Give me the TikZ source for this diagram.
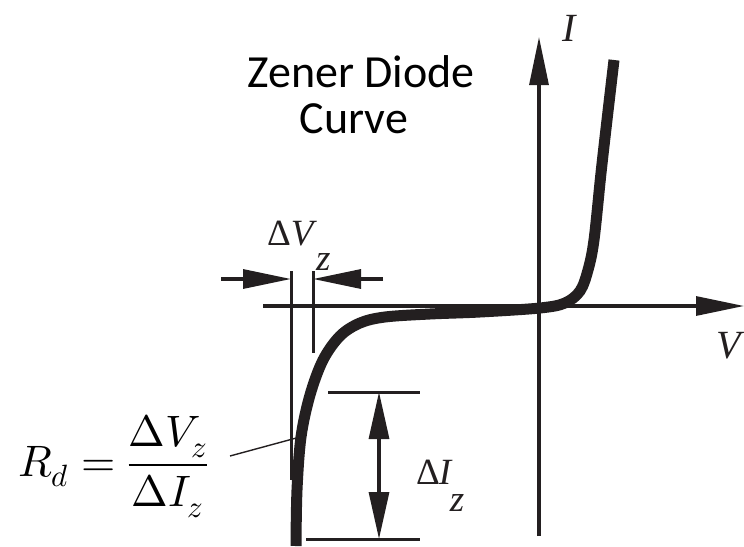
\documentclass[tikz,border=0pt]{standalone}
\usepackage{fontspec}
\usepackage{unicode-math}
\setmathfont{Latin Modern Math}
\newfontfamily\titlefont{Carlito}
\newfontfamily\tms{Liberation Serif}
\usetikzlibrary{arrows.meta}
\definecolor{ink}{HTML}{231F20}
\begin{document}
\begin{tikzpicture}[x=1pt,y=-1pt,
  axis/.style={draw=ink,line width=3.1pt,-{Triangle[length=48pt,width=19pt]}},
  curveline/.style={draw=ink,line width=11pt},
  extline/.style={draw=ink,line width=3pt},
  dimarrow/.style={draw=ink,line width=3.2pt,-{Triangle[length=48pt,width=19pt]}},
  twoarrow/.style={draw=ink,line width=3.2pt,{Triangle[length=47pt,width=20pt]}-{Triangle[length=47pt,width=20pt]}},
  leader/.style={draw=ink,line width=1.4pt},
  lbl/.style={inner sep=0pt,font=\tms\fontsize{37}{37}\selectfont,text=ink},
  axlbl/.style={inner sep=0pt,font=\tms\fontsize{40}{40}\selectfont,text=ink},
  titletext/.style={inner sep=0pt,font=\titlefont\fontsize{46}{46}\selectfont,text=black}]
\useasboundingbox (0,0) rectangle (744,546);
% axes
\coordinate (Vs) at (263,306);
\coordinate (Ve) at (744,306);
\coordinate (Is) at (539,536);
\coordinate (Ie) at (539,37);
\draw[axis] (Vs) -- (Ve);
\draw[axis] (Is) -- (Ie);
\node[axlbl,anchor=base west] (Ilab) at (562,41) {\textit{I}};
\node[axlbl,anchor=base west] (Vlab) at (716,358) {\textit{V}};
% title
\node[titletext,anchor=base] (t1) at (361,87) {Zener Diode};
\node[titletext,anchor=base] (t2) at (354,133) {Curve};
% curve
\draw[curveline] plot[smooth,tension=0.55] coordinates {
 (296,546) (297,490) (301,437) (310,395) (323,360) (340,336) (360,323)
 (385,317) (430,314) (480,312) (540,308) (565,303) (580,291) (588,270)
 (594,240) (601,173) (607,120) (614,60)};
% Delta V_z dimension
\coordinate (eL1) at (291,271); \coordinate (eL2) at (291,480);
\coordinate (eR1) at (313,271); \coordinate (eR2) at (313,353);
\draw[extline] (eL1) -- (eL2);
\draw[extline] (eR1) -- (eR2);
\coordinate (dL) at (221,279); \coordinate (dLt) at (291,279);
\coordinate (dR) at (383,279); \coordinate (dRt) at (313,279);
\draw[dimarrow] (dL) -- (dLt);
\draw[dimarrow] (dR) -- (dRt);
\node[lbl,anchor=base west] (dVlab) at (267,245) {Δ\textit{V}\kern-1pt\raisebox{-25pt}{\textit{z}}};
% Delta I_z dimension
\coordinate (hT1) at (328,392); \coordinate (hT2) at (420,392);
\coordinate (hB1) at (306,539); \coordinate (hB2) at (420,539);
\draw[extline] (hT1) -- (hT2);
\draw[extline] (hB1) -- (hB2);
\coordinate (vT) at (379,392); \coordinate (vB) at (379,539);
\draw[twoarrow] (vT) -- (vB);
\node[lbl,anchor=base west] (dIlab) at (416,484) {Δ\kern-1pt\textit{I}\kern-3pt\raisebox{-27pt}{\textit{z}}};
% formula and leader
\node[anchor=base west,inner sep=0pt,font=\fontsize{44}{44}\selectfont,text=black] (Rd) at (18,476)
  {$\displaystyle R_d=\frac{\Delta V_z}{\Delta I_z}$};
\coordinate (lA) at (230,456);
\coordinate (lB) at (300,437);
\draw[leader] (lA) -- (lB);
\end{tikzpicture}
\end{document}
